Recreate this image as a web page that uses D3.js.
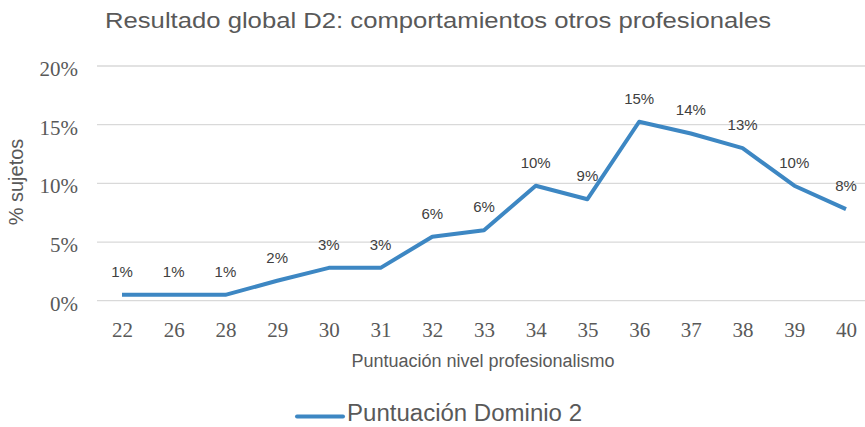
<!DOCTYPE html>
<html>
<head>
<meta charset="utf-8">
<script src="https://cdn.jsdelivr.net/npm/d3@7"></script>
<style>
html,body{margin:0;padding:0;background:#fff;}
svg{display:block;}
</style>
</head>
<body>
<svg id="chart" width="865" height="427"></svg>
<script>
const categories = ["22","26","28","29","30","31","32","33","34","35","36","37","38","39","40"];
const values = [0.5,0.5,0.5,1.7,2.8,2.8,5.45,6.0,9.8,8.65,15.25,14.25,13.0,9.8,7.8];
const dataLabels = ["1%","1%","1%","2%","3%","3%","6%","6%","10%","9%","15%","14%","13%","10%","8%"];
const yTicks = [0,5,10,15,20];
const title = "Resultado global D2: comportamientos otros profesionales";
const xTitle = "Puntuación nivel profesionalismo";
const yTitle = "% sujetos";
const seriesName = "Puntuación Dominio 2";

(function(){
const svg = d3.select("#chart");
const gridLeft = 97, gridRight = 865, plotTop = 66, plotBottom = 300.7;

const x = d3.scalePoint().domain(categories).range([122, 846]).padding(0);
const y = d3.scaleLinear().domain([0,20]).range([plotBottom, plotTop]);

const lineColor = "#3D87C3";
const sans = "'Liberation Sans', Arial, sans-serif";
const serif = "'Liberation Serif', serif";

// gridlines
svg.append("g").selectAll("line").data(yTicks).join("line")
  .attr("x1", gridLeft).attr("x2", gridRight)
  .attr("y1", d => y(d)).attr("y2", d => y(d))
  .attr("stroke", "#d9d9d9").attr("stroke-width", 1.3);

// y axis labels
const yAxis = d3.axisLeft(y).tickValues(yTicks).tickFormat(d => d + "%").tickSize(0).tickPadding(0);
const gy = svg.append("g").attr("transform", `translate(78,0)`).call(yAxis);
gy.select(".domain").remove();
gy.selectAll("text").attr("font-family", serif).attr("font-size", 21).attr("fill", "#595959").attr("dy", "0.45em");

// x axis labels
const xAxis = d3.axisBottom(x).tickSize(0).tickPadding(0);
const gx = svg.append("g").attr("transform", `translate(0,${plotBottom})`).call(xAxis);
gx.select(".domain").remove();
gx.selectAll("text").attr("font-family", serif).attr("font-size", 21).attr("fill", "#595959")
  .attr("dy", 0).attr("y", 36);

// line
const line = d3.line().x((d,i) => x(categories[i])).y(d => y(d));
svg.append("path").datum(values)
  .attr("d", line).attr("fill", "none")
  .attr("stroke", lineColor).attr("stroke-width", 4)
  .attr("stroke-linejoin", "round").attr("stroke-linecap", "butt");

// data labels
svg.append("g").selectAll("text").data(values).join("text")
  .attr("x", (d,i) => x(categories[i]))
  .attr("y", d => y(d) - 18)
  .attr("text-anchor", "middle")
  .attr("font-family", sans)
  .attr("font-size", 15).attr("fill", "#404040")
  .text((d,i) => dataLabels[i]);

// title
svg.append("text").attr("x", 105).attr("y", 27.5)
  .attr("font-family", sans).attr("font-size", 22).attr("fill", "#595959")
  .attr("textLength", 666).attr("lengthAdjust", "spacingAndGlyphs")
  .text(title);

// x title
svg.append("text").attr("x", 483).attr("y", 366.5).attr("text-anchor", "middle")
  .attr("font-family", sans).attr("font-size", 18).attr("fill", "#595959").text(xTitle);

// y title
svg.append("text").attr("transform", `translate(23,182) rotate(-90)`)
  .attr("text-anchor", "middle")
  .attr("font-family", sans).attr("font-size", 20).attr("fill", "#595959").text(yTitle);

// legend
const lg = svg.append("g");
lg.append("line").attr("x1", 297).attr("x2", 343).attr("y1", 416.5).attr("y2", 416.5)
  .attr("stroke", lineColor).attr("stroke-width", 4).attr("stroke-linecap", "round");
lg.append("text").attr("x", 347).attr("y", 421)
  .attr("font-family", sans).attr("font-size", 23).attr("fill", "#595959")
  .attr("textLength", 235).attr("lengthAdjust", "spacingAndGlyphs")
  .text(seriesName);
})();
</script>
</body>
</html>
